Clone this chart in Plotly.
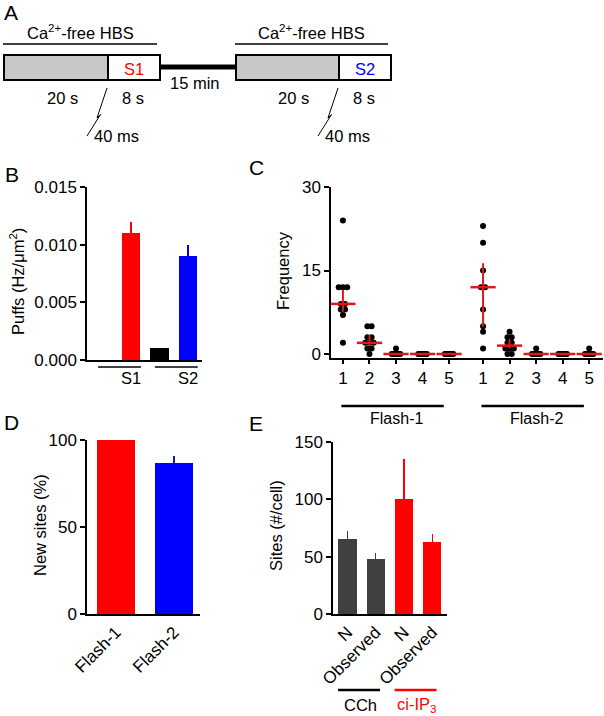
import plotly.graph_objects as go
import numpy as np

W, H = 604, 716
FONT = "Arial, Liberation Sans, sans-serif"
RED = "#ff0000"
BLUE = "#0000ff"
GRAY = "#404040"
MEDRED = "#e01818"
TICK = 17

# ---------------- data ----------------
# Panel B: puff frequency
b_values = [0.0, 0.011, 0.001, 0.009]
b_errors = [0.0, 0.001, 0.0, 0.001]
b_colors = ["#000000", RED, "#000000", BLUE]
b_groups = ["S1", "S2"]

# Panel C: frequency of sites by number of puffs
c_ticklabels = ["1", "2", "3", "4", "5"]
c_groups = ["Flash-1", "Flash-2"]
c_flash1 = [
    [24, 12, 12, 12, 9, 9, 8, 8, 7, 2],
    [5, 5, 3, 3, 2, 2, 2, 1, 1, 0],
    [1, 0, 0, 0, 0, 0, 0, 0, 0, 0],
    [0, 0, 0, 0, 0, 0, 0, 0, 0, 0],
    [0, 0, 0, 0, 0, 0, 0, 0, 0, 0],
]
c_flash1_median = [9, 2, 0, 0, 0]
c_flash1_low = [7.6, 1.5, 0, 0, 0]
c_flash1_high = [11.5, 3.4, 0, 0, 0]
c_flash2 = [
    [23, 20, 15, 12, 12, 8, 5, 4, 1],
    [4, 3, 3, 2, 2, 1, 1, 1, 0, 0],
    [1, 0, 0, 0, 0, 0, 0, 0, 0],
    [0, 0, 0, 0, 0, 0, 0, 0, 0],
    [1, 0, 0, 0, 0, 0, 0, 0, 0],
]
c_flash2_median = [12, 1.5, 0, 0, 0]
c_flash2_low = [4.9, 1.0, 0, 0, 0]
c_flash2_high = [16.3, 2.5, 0, 0, 0]

# Panel D: new sites
d_labels = ["Flash-1", "Flash-2"]
d_values = [100, 87]
d_errors = [0, 4]
d_colors = [RED, BLUE]

# Panel E: sites per cell
e_labels = ["N", "Observed", "N", "Observed"]
e_values = [65, 48, 100, 63]
e_errors = [7, 5, 35, 7]
e_colors = [GRAY, GRAY, RED, RED]
e_groups = ["CCh", "ci-IP<sub>3</sub>"]


def X(px):
    return px / W


def Y(py):
    return 1 - py / H


fig = go.Figure()
annotations = []
shapes = []


def ann(text, x, y, size=16, color="black", angle=0, xanchor="center"):
    annotations.append(dict(text=text, x=X(x), y=Y(y), xref="paper", yref="paper",
                            showarrow=False, xanchor=xanchor, yanchor="middle",
                            textangle=angle, font=dict(size=size, color=color, family=FONT)))


def pline(x0, y0, x1, y1, width=1.5, color="black"):
    shapes.append(dict(type="line", xref="paper", yref="paper", x0=X(x0), y0=Y(y0),
                       x1=X(x1), y1=Y(y1), line=dict(color=color, width=width)))


def prect(x0, y0, x1, y1, fill):
    shapes.append(dict(type="rect", xref="paper", yref="paper", x0=X(x0), y0=Y(y0),
                       x1=X(x1), y1=Y(y1), fillcolor=fill, line=dict(color="black", width=2)))


# ---------------- Panel A (schematic) ----------------
ann("A", 11, 12, size=21)
for (x0, x1, split, label, lcolor) in [(4, 160, 108, "S1", RED), (236, 391, 339, "S2", BLUE)]:
    pline(x0 - 1, 44, x1 - 3, 44, width=1.5)
    ann("Ca<sup>2+</sup>-free HBS", (x0 + x1) / 2 - 2, 32, size=16.5)
    prect(x0, 55, split, 80, "#c8c8c8")
    prect(split, 55, x1, 80, "white")
    ann(label, (split + x1) / 2, 69, color=lcolor, size=16.5)
    ann("20 s", (x0 + split) / 2 + 6, 98, size=16.5)
    ann("8 s", (split + x1) / 2 - 1, 98, size=16.5)
    zx = split - 1
    shapes.append(dict(type="path", xref="paper", yref="paper",
                       path="M{},{} L{},{} L{},{} L{},{}".format(
                           X(zx), Y(88), X(zx - 10), Y(118), X(zx - 6.5), Y(114.5), X(zx - 20), Y(136)),
                       line=dict(color="black", width=1)))
    ann("40 ms", zx - 15, 136, xanchor="left", size=16.5)
pline(160, 67, 236, 67, width=5)
ann("15 min", 195, 83, size=16.5)

# ---------------- Panel B ----------------
ann("B", 12, 175, size=21)
b_pos = list(range(len(b_values)))
for i, (v, e, c) in enumerate(zip(b_values, b_errors, b_colors)):
    fig.add_trace(go.Bar(x=[b_pos[i]], y=[v], width=0.65, marker=dict(color=c, line=dict(width=0)),
                         error_y=dict(type="data", array=[e], arrayminus=[0], symmetric=False,
                                      width=0, thickness=2, color=c),
                         xaxis="x", yaxis="y", showlegend=False))
for gi, g in enumerate(b_groups):
    shapes.append(dict(type="line", xref="x", yref="paper", x0=2 * gi - 0.16, x1=2 * gi + 1.35,
                       y0=Y(367), y1=Y(367), line=dict(color="black", width=1.5)))
    annotations.append(dict(text=g, x=2 * gi + 1, y=Y(378), xref="x", yref="paper", showarrow=False,
                            yanchor="middle", font=dict(size=16.5, family=FONT, color="black")))
ann("Puffs (Hz/μm<sup>2</sup>)", 17, 282, angle=-90, size=16.5)

# ---------------- Panel C ----------------
ann("C", 256, 168, size=21)
gap = 5.28
step = 0.16
cap = 0.16
c_all = [(c_flash1, c_flash1_median, c_flash1_low, c_flash1_high, 0.0),
         (c_flash2, c_flash2_median, c_flash2_low, c_flash2_high, gap)]
tickvals = []
ticktext = []
for data, med, lo, hi, off in c_all:
    for k, vals in enumerate(data):
        center = off + k
        tickvals.append(center)
        ticktext.append(c_ticklabels[k])
        xs, ys = [], []
        uniq = sorted(set(vals))
        for u in uniq:
            n = vals.count(u)
            w = min((n - 1) / 2 * step, cap)
            offs = np.linspace(-w, w, n) if n > 1 else [0.0]
            for o in offs:
                xs.append(center + o)
                ys.append(u)
        fig.add_trace(go.Scatter(x=xs, y=ys, mode="markers",
                                 marker=dict(color="black", size=6, line=dict(width=0)),
                                 xaxis="x2", yaxis="y2", showlegend=False))
    centers = [off + k for k in range(len(data))]
    fig.add_trace(go.Scatter(x=centers, y=med, mode="markers",
                             marker=dict(symbol="line-ew", size=18, color=MEDRED,
                                         line=dict(color=MEDRED, width=2.5)),
                             error_y=dict(type="data", symmetric=False,
                                          array=[h - m for h, m in zip(hi, med)],
                                          arrayminus=[m - l for m, l in zip(med, lo)],
                                          width=0, thickness=2, color=MEDRED),
                             xaxis="x2", yaxis="y2", showlegend=False))
for gi, g in enumerate(c_groups):
    off = gi * gap
    shapes.append(dict(type="line", xref="x2", yref="paper", x0=off - 0.06, x1=off + 3.8,
                       y0=Y(406), y1=Y(406), line=dict(color="black", width=2.5)))
    annotations.append(dict(text=g, x=off + 2, y=Y(418), xref="x2", yref="paper", showarrow=False,
                            yanchor="middle", font=dict(size=16, family=FONT, color="black")))
ann("Frequency", 283, 271, angle=-90, size=16.5)

# ---------------- Panel D ----------------
ann("D", 11, 422, size=21)
for i, (v, e, c) in enumerate(zip(d_values, d_errors, d_colors)):
    fig.add_trace(go.Bar(x=[i], y=[v], width=0.655, marker=dict(color=c, line=dict(width=0)),
                         error_y=dict(type="data", array=[e], arrayminus=[0], symmetric=False,
                                      width=0, thickness=2, color="#1a1acc" if c == BLUE else c),
                         xaxis="x3", yaxis="y3", showlegend=False))
ann("New sites (%)", 40, 525, angle=-90, size=16.5)

# ---------------- Panel E ----------------
ann("E", 256, 423, size=21)
for i, (v, e, c) in enumerate(zip(e_values, e_errors, e_colors)):
    fig.add_trace(go.Bar(x=[i], y=[v], width=0.65, marker=dict(color=c, line=dict(width=0)),
                         error_y=dict(type="data", array=[e], arrayminus=[0], symmetric=False,
                                      width=0, thickness=1.5, color=c),
                         xaxis="x4", yaxis="y4", showlegend=False))
for gi, (g, col) in enumerate(zip(e_groups, ["black", RED])):
    shapes.append(dict(type="line", xref="x4", yref="paper", x0=2 * gi - 0.33, x1=2 * gi + 1.15,
                       y0=Y(690), y1=Y(690), line=dict(color=col, width=2.5)))
    annotations.append(dict(text=g, x=2 * gi + 0.45, y=Y(705), xref="x4", yref="paper", showarrow=False,
                            yanchor="middle", font=dict(size=16.5, family=FONT, color=col)))
ann("Sites (#/cell)", 276, 526, angle=-90, size=16.5)

# ---------------- axes ----------------
axis_common = dict(showline=True, linewidth=1.5, linecolor="black", showgrid=False, zeroline=False,
                   ticks="outside", ticklen=5, tickwidth=1.5, tickcolor="black", automargin=False,
                   tickfont=dict(size=TICK, family=FONT, color="black"))

fig.update_layout(
    template="none",
    width=W, height=H, autosize=False,
    margin=dict(l=0, r=0, t=0, b=0, pad=0),
    paper_bgcolor="white", plot_bgcolor="white",
    font=dict(family=FONT, color="black", size=16),
    showlegend=False, bargap=0,
    xaxis=dict(domain=[X(87), X(202)], range=[-0.55, 3.5], anchor="y", automargin=False,
               showline=True, linewidth=1.5, linecolor="black", showgrid=False, zeroline=False,
               showticklabels=False, ticks=""),
    yaxis=dict(domain=[Y(360), Y(187)], range=[0, 0.015], anchor="x",
               tickvals=[0, 0.005, 0.010, 0.015], tickformat=".3f", **axis_common),
    xaxis2=dict(domain=[X(331), X(603)], range=[-0.45, 9.8], anchor="y2",
                tickvals=tickvals, ticktext=ticktext, **{**axis_common, "ticklen": 4}),
    yaxis2=dict(domain=[Y(358), Y(187)], range=[-0.72, 30], anchor="x2",
                tickvals=[0, 15, 30], **axis_common),
    xaxis3=dict(domain=[X(87), X(200)], range=[-0.5, 1.45], anchor="y3",
                tickvals=[0, 1], ticktext=d_labels, tickangle=-45,
                **{**axis_common, "ticks": ""}),
    yaxis3=dict(domain=[Y(614), Y(440)], range=[0, 100], anchor="x3",
                tickvals=[0, 50, 100], **axis_common),
    xaxis4=dict(domain=[X(333), X(447)], range=[-0.51, 3.52], anchor="y4",
                tickvals=[0, 1, 2, 3], ticktext=e_labels, tickangle=-45,
                **{**axis_common, "ticks": ""}),
    yaxis4=dict(domain=[Y(614), Y(442)], range=[0, 150], anchor="x4",
                tickvals=[0, 50, 100, 150], **axis_common),
    annotations=annotations,
    shapes=shapes,
)

fig.write_html("out.html", config={"displayModeBar": False},
               post_script="document.body.style.margin='0px';document.body.style.overflow='hidden';")
